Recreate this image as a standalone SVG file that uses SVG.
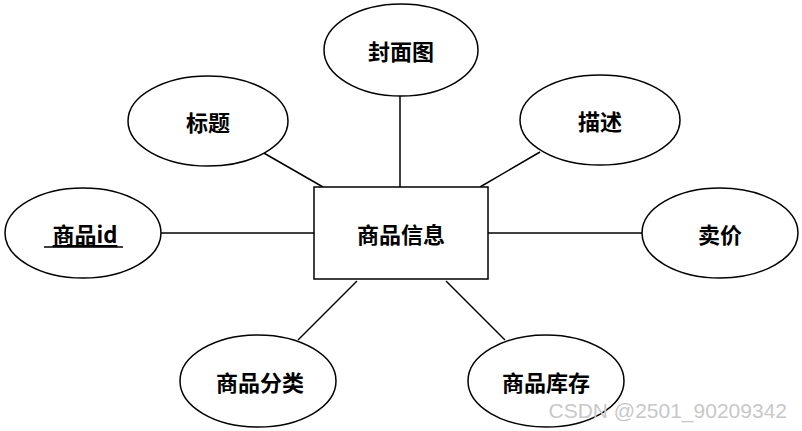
<svg xmlns="http://www.w3.org/2000/svg" width="802" height="431" viewBox="0 0 802 431">
<style>
.n{fill:#fff;stroke:#000;stroke-width:1.5}
.t{font-family:"Noto Sans CJK SC","Liberation Sans",sans-serif;font-size:22px;font-weight:bold;text-anchor:middle;dominant-baseline:central;fill:#000}
.c line{stroke:#000;stroke-width:1.5}
</style>
<rect width="802" height="431" fill="#fff"/>
<g class="c">
<line x1="400" y1="96" x2="400" y2="187"/>
<line x1="262" y1="152" x2="323" y2="187"/>
<line x1="540" y1="152" x2="480" y2="187"/>
<line x1="161" y1="233" x2="314" y2="233"/>
<line x1="488" y1="233" x2="642" y2="233"/>
<line x1="298" y1="340" x2="357" y2="281"/>
<line x1="505" y1="340" x2="446" y2="281"/>
</g>
<g id="main"><rect class="n" x="314" y="187" width="174" height="92"/><text class="t" x="401" y="233">商品信息</text></g>
<g id="fengmian"><ellipse class="n" cx="401" cy="50" rx="77" ry="46"/><text class="t" x="401" y="50">封面图</text></g>
<g id="biaoti"><ellipse class="n" cx="208" cy="121" rx="80" ry="45"/><text class="t" x="208" y="121">标题</text></g>
<g id="miaoshu"><ellipse class="n" cx="600" cy="120" rx="80" ry="45"/><text class="t" x="600" y="120">描述</text></g>
<g id="spid"><ellipse class="n" cx="83" cy="233" rx="78" ry="45"/><text class="t" x="85" y="233" text-decoration="underline">商品id</text><line x1="44" y1="247" x2="123" y2="247" stroke="#000" stroke-width="1.5"/></g>
<g id="maijia"><ellipse class="n" cx="720" cy="233" rx="78" ry="45"/><text class="t" x="720" y="233">卖价</text></g>
<g id="fenlei"><ellipse class="n" cx="258" cy="381" rx="78" ry="46"/><text class="t" x="260" y="381">商品分类</text></g>
<g id="kucun"><ellipse class="n" cx="546" cy="381" rx="78" ry="46"/><text class="t" x="546" y="381">商品库存</text></g>
<text x="787" y="410" font-family="Liberation Sans,sans-serif" font-size="21" fill="#c8c8c8" text-anchor="end" dominant-baseline="central">CSDN @2501_90209342</text>
</svg>
